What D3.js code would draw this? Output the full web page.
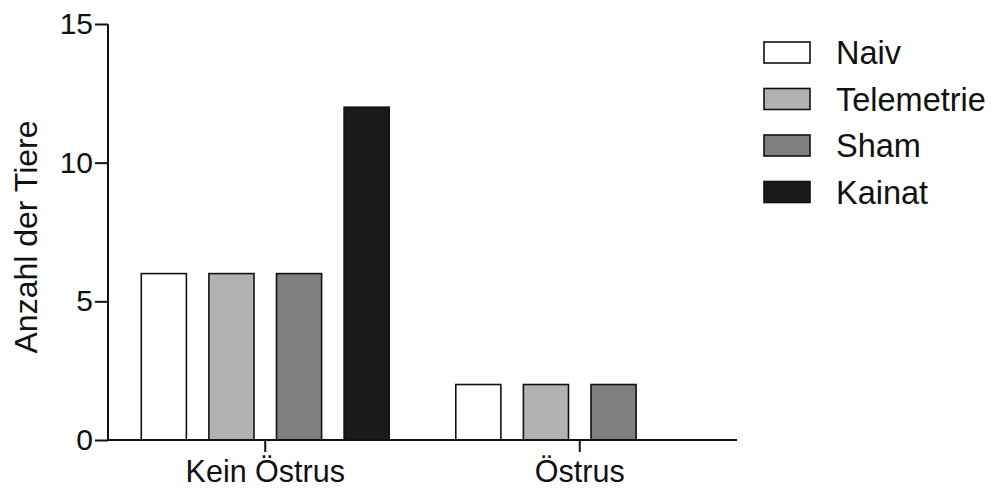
<!DOCTYPE html>
<html>
<head>
<meta charset="utf-8">
<script src="https://cdn.jsdelivr.net/npm/d3@7"></script>
<style>
  html, body { margin: 0; padding: 0; background: #fff; }
  svg { display: block; }
  text { font-family: "Liberation Sans", Arial, sans-serif; fill: #111; }
</style>
</head>
<body>
<svg id="chart" width="996" height="488"></svg>
<script>
// Groups along the x axis
const groups = ["Kein Östrus", "Östrus"];
// Treatment series
const series = ["Naiv", "Telemetrie", "Sham", "Kainat"];
const seriesColors = ["#ffffff", "#b2b2b2", "#808080", "#1a1a1a"];
// Number of animals per series, one value per group
const naiv = [6, 2];
const telemetrie = [6, 2];
const sham = [6, 2];
const kainat = [12, 0];
const yTicks = [0, 5, 10, 15];

const values = [naiv, telemetrie, sham, kainat];
const rows = [];
groups.forEach((g, gi) => {
  series.forEach((s, si) => {
    rows.push({ group: g, series: s, value: values[si][gi], color: seriesColors[si] });
  });
});

const svg = d3.select("#chart");
const plotLeft = 108, plotRight = 737, plotTop = 24, plotBottom = 440;
const font = "Liberation Sans, Arial, sans-serif";

const x0 = d3.scaleBand().domain(groups).range([plotLeft, plotRight])
  .paddingInner(0.14).paddingOuter(0.07);
const x1 = d3.scaleBand().domain(series).range([0, x0.bandwidth()])
  .paddingInner(0.333).paddingOuter(0.1667);
const y = d3.scaleLinear().domain([0, 15]).range([plotBottom, plotTop]);

// Bars
svg.append("g").selectAll("rect")
  .data(rows.filter(d => d.value > 0))
  .join("rect")
  .attr("x", d => x0(d.group) + x1(d.series))
  .attr("y", d => y(d.value))
  .attr("width", x1.bandwidth())
  .attr("height", d => y(0) - y(d.value))
  .attr("fill", d => d.color)
  .attr("stroke", "#111")
  .attr("stroke-width", 1.6);

// Y axis
const yAxis = svg.append("g")
  .attr("transform", `translate(${plotLeft},0)`)
  .call(d3.axisLeft(y).tickValues(yTicks).tickSize(13).tickPadding(2).tickFormat(d3.format("d")));
yAxis.select(".domain").attr("stroke", "#111").attr("stroke-width", 2)
  .attr("d", `M0,${plotTop}V${plotBottom}`);
yAxis.selectAll(".tick line").attr("stroke", "#111").attr("stroke-width", 2);
yAxis.selectAll(".tick text").attr("font-size", 30).attr("font-family", font).attr("fill", "#111");

// X axis
const xAxis = svg.append("g")
  .attr("transform", `translate(0,${plotBottom})`)
  .call(d3.axisBottom(x0).tickSize(12));
xAxis.select(".domain").attr("stroke", "#111").attr("stroke-width", 2)
  .attr("d", `M${plotLeft},0H${plotRight}`);
xAxis.selectAll(".tick line").attr("stroke", "#111").attr("stroke-width", 2);
xAxis.selectAll(".tick text")
  .attr("font-size", 30.5).attr("font-family", font).attr("fill", "#111")
  .attr("y", 42).attr("dy", "0");

// Y axis title
svg.append("text")
  .attr("transform", `translate(37,${(plotTop + plotBottom) / 2 + 5}) rotate(-90)`)
  .attr("text-anchor", "middle")
  .attr("font-size", 32)
  .text("Anzahl der Tiere");

// Legend
const legend = svg.append("g").attr("transform", "translate(764,42)");
const item = legend.selectAll("g").data(series).join("g")
  .attr("transform", (d, i) => `translate(0,${i * 46.5})`);
item.append("rect")
  .attr("width", 46).attr("height", 21)
  .attr("fill", (d, i) => seriesColors[i])
  .attr("stroke", "#111").attr("stroke-width", 1.6);
item.append("text")
  .attr("x", 72).attr("y", 10.5).attr("dy", "0.36em")
  .attr("font-size", 32.5)
  .text(d => d);
</script>
</body>
</html>
